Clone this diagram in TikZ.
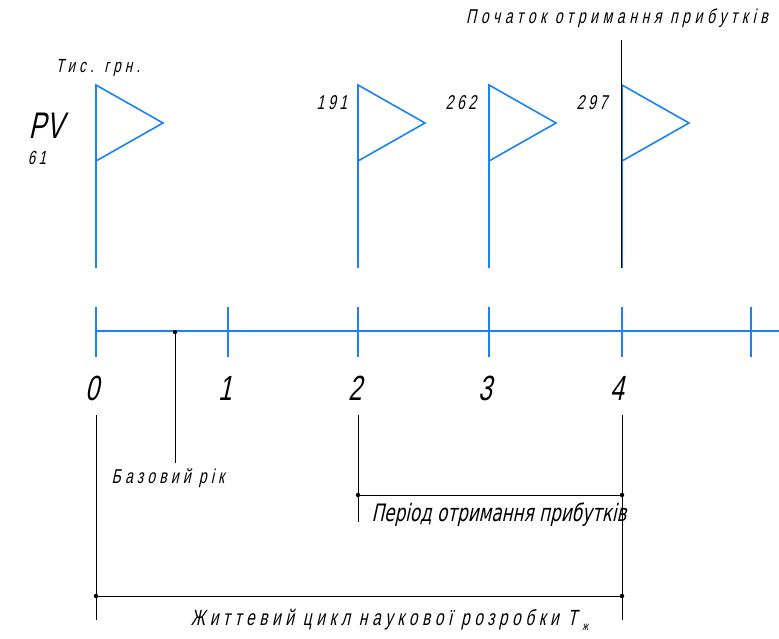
\documentclass[tikz,border=0pt]{standalone}
\usepackage{fontspec}
\newfontfamily\gost[FakeSlant=0.22,FakeStretch=0.7]{Liberation Sans}
\newfontfamily\gostthin[FakeSlant=0.22,FakeStretch=0.7]{DejaVu Sans}
\definecolor{axisblue}{RGB}{25,130,245}
\tikzset{
  bl/.style={draw=axisblue,line width=1.6pt},
  blk/.style={draw=black,line width=0.9pt},
  lbl/.style={inner sep=0pt,text=black},
  dotc/.style={circle,fill=black,inner sep=0pt,minimum size=4.5pt},
}
\begin{document}
\begin{tikzpicture}[x=1pt,y=-1pt]
\useasboundingbox (0,0) rectangle (779,638);
% axis ticks
\foreach \n/\x in {t0/96,t1/228,t2/358,t3/489,t4/622,t5/751}{
  \coordinate (\n top) at (\x,307);
  \coordinate (\n bot) at (\x,357);
  \coordinate (\n) at (\x,331);
  \draw[bl] (\n top) -- (\n bot);
}
\coordinate (axisend) at (779,331);
\draw[bl] (t0) -- (axisend);
% tick labels
\node[lbl,font=\gost\fontsize{35}{35}\selectfont] (l0) at (92,388) {0};
\node[lbl,font=\gost\fontsize{35}{35}\selectfont] (l1) at (225,388) {1};
\node[lbl,font=\gost\fontsize{35}{35}\selectfont] (l2) at (355,388) {2};
\node[lbl,font=\gost\fontsize{35}{35}\selectfont] (l3) at (485,388) {3};
\node[lbl,font=\gost\fontsize{35}{35}\selectfont] (l4) at (617,388) {4};
% flags
\foreach \n/\x in {f0/96,f2/358,f3/489,f4/622}{
  \coordinate (\n top) at (\x,85);
  \coordinate (\n mid) at (\x,161);
  \coordinate (\n base) at (\x,268);
  \coordinate (\n tip) at (\x+67,123);
  \draw[bl,line join=miter] (\n base) -- (\n top) -- (\n tip) -- (\n mid);
}
% black marker line
\coordinate (mtop) at (621,40);
\coordinate (mbot) at (621,268);
\draw[blk] (mtop) -- (mbot);
\node[lbl,font=\gost\addfontfeatures{LetterSpace=23}\fontsize{20}{20}\selectfont] (pochatok) at (617,18) {Початок отримання прибутків};
% values
\node[lbl,font=\gost\addfontfeatures{LetterSpace=22}\fontsize{19}{19}\selectfont] (tys) at (98,68) {Тис. грн.};
\node[lbl,font=\gost\fontsize{37}{37}\selectfont,anchor=base,text depth=0pt] (pv) at (46,138) {PV};
\node[lbl,font=\gost\addfontfeatures{LetterSpace=18}\fontsize{19}{19}\selectfont,anchor=base] (v61) at (37,164) {61};
\node[lbl,font=\gost\addfontfeatures{LetterSpace=18}\fontsize{20}{20}\selectfont] (v191) at (332,103) {191};
\node[lbl,font=\gost\addfontfeatures{LetterSpace=18}\fontsize{20}{20}\selectfont] (v262) at (461,103) {262};
\node[lbl,font=\gost\addfontfeatures{LetterSpace=18}\fontsize{20}{20}\selectfont] (v297) at (592,103) {297};
% base year
\node[dotc] (bdot) at (175,332) {};
\coordinate (bend) at (175,463);
\draw[blk] (bdot) -- (bend);
\node[lbl,font=\gost\addfontfeatures{LetterSpace=21}\fontsize{20}{20}\selectfont] (baz) at (168,478) {Базовий рік};
% lower verticals
\coordinate (d0a) at (96,415);  \coordinate (d0b) at (96,620);
\coordinate (d2a) at (358,415); \coordinate (d2b) at (358,522);
\coordinate (d4a) at (622,415); \coordinate (d4b) at (622,620);
\draw[blk] (d0a) -- (d0b);
\draw[blk] (d2a) -- (d2b);
\draw[blk] (d4a) -- (d4b);
% period dimension
\node[dotc] (pa) at (358,495) {};
\node[dotc] (pb) at (622,495) {};
\draw[blk] (pa) -- (pb);
\node[lbl,font=\gostthin\fontsize{24}{24}\selectfont] (per) at (499,515) {Період отримання прибутків};
% life cycle dimension
\node[lbl,font=\gost\addfontfeatures{LetterSpace=21}\fontsize{22}{22}\selectfont,anchor=base,text depth=0pt] (zhyt) at (384,625) {Життевий цикл наукової розробки T};
\node[lbl,font=\gost\fontsize{12}{12}\selectfont,anchor=base west,text depth=0pt] (zsub) at ([xshift=5pt,yshift=-5pt]zhyt.base east) {ж};
\node[dotc] (za) at (96,596) {};
\node[dotc] (zb) at (622,596) {};
\draw[blk] (za) -- (zb);
\end{tikzpicture}
\end{document}
